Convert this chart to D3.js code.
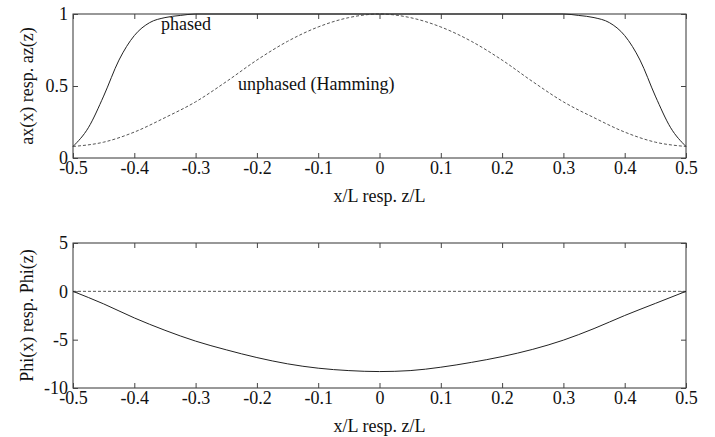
<!DOCTYPE html>
<html>
<head>
<meta charset="utf-8">
<script src="https://cdn.jsdelivr.net/npm/d3@7"></script>
<style>
  body { margin: 0; background: #fff; }
  text { font-family: "Liberation Serif", "Times New Roman", serif; fill: #111; }
</style>
</head>
<body>
<div id="canvas"></div>
<script>
// x/L positions (0.05 grid) for the Hamming / phase curves
const xGrid = [-0.5, -0.45, -0.4, -0.35, -0.3, -0.25, -0.2, -0.15, -0.1, -0.05, 0,
               0.05, 0.1, 0.15, 0.2, 0.25, 0.3, 0.35, 0.4, 0.45, 0.5];
// amplitude, unphased (Hamming)
const ampUnphased = [0.08, 0.11, 0.18, 0.28, 0.39, 0.53, 0.68, 0.81, 0.91, 0.975, 1.0,
                     0.975, 0.91, 0.81, 0.68, 0.53, 0.39, 0.28, 0.18, 0.11, 0.08];
// amplitude, phased (finer near the edges)
const xPhased = [-0.5, -0.475, -0.45, -0.425, -0.4, -0.375, -0.35, -0.325, -0.3, -0.2, -0.1, 0,
                 0.1, 0.2, 0.3, 0.325, 0.35, 0.375, 0.4, 0.425, 0.45, 0.475, 0.5];
const ampPhased = [0.08, 0.21, 0.43, 0.68, 0.85, 0.94, 0.975, 0.99, 1.0, 1.0, 1.0, 1.0,
                   1.0, 1.0, 1.0, 0.99, 0.975, 0.94, 0.85, 0.68, 0.43, 0.21, 0.08];
// phase
const phiPhased = [0, -1.3, -2.75, -4.03, -5.15, -6.05, -6.85, -7.5, -7.95, -8.2, -8.3,
                   -8.2, -7.85, -7.35, -6.75, -6.0, -5.05, -3.85, -2.5, -1.25, 0];
const phiUnphased = [0, 0, 0, 0, 0, 0, 0, 0, 0, 0, 0, 0, 0, 0, 0, 0, 0, 0, 0, 0, 0];

const xTicks = [-0.5, -0.4, -0.3, -0.2, -0.1, 0, 0.1, 0.2, 0.3, 0.4, 0.5];
const ampTicks = [0, 0.5, 1];
const phiTicks = [-10, -5, 0, 5];

const width = 715, height = 437;
const fs = "18px";
const svg = d3.select("#canvas").append("svg").attr("width", width).attr("height", height);
svg.append("rect").attr("width", width).attr("height", height).attr("fill", "#ffffff");

const x = d3.scaleLinear().domain([-0.5, 0.5]).range([73, 686]);

function fmt(d) { return d === 0 ? "0" : String(d); }

function panel(top, bottom, yDomain, yTicks, yLabel) {
    const y = d3.scaleLinear().domain(yDomain).range([bottom, top]);
    const g = svg.append("g");
    g.append("rect")
        .attr("x", x.range()[0]).attr("y", top)
        .attr("width", x.range()[1] - x.range()[0]).attr("height", bottom - top)
        .attr("fill", "none").attr("stroke", "#333").attr("stroke-width", 1);

    const ax = [
        g.append("g").attr("transform", "translate(0," + bottom + ")")
            .call(d3.axisBottom(x).tickValues(xTicks).tickSize(-5).tickPadding(3).tickFormat(fmt)),
        g.append("g").attr("transform", "translate(0," + top + ")")
            .call(d3.axisTop(x).tickValues(xTicks).tickSize(-5).tickFormat("")),
        g.append("g").attr("transform", "translate(" + x.range()[0] + ",0)")
            .call(d3.axisLeft(y).tickValues(yTicks).tickSize(-5).tickPadding(5).tickFormat(fmt)),
        g.append("g").attr("transform", "translate(" + x.range()[1] + ",0)")
            .call(d3.axisRight(y).tickValues(yTicks).tickSize(-5).tickFormat(""))
    ];
    ax.forEach(a => {
        a.select(".domain").remove();
        a.selectAll("line").attr("stroke", "#444");
        a.selectAll("text").style("font-family", "Liberation Serif").style("font-size", fs).attr("fill", "#111");
    });

    g.append("text")
        .attr("x", (x.range()[0] + x.range()[1]) / 2)
        .attr("y", bottom + 44)
        .attr("text-anchor", "middle")
        .style("font-size", fs)
        .text("x/L resp. z/L");
    g.append("text")
        .attr("transform", "translate(27," + ((top + bottom) / 2) + ") rotate(-90)")
        .attr("text-anchor", "middle")
        .attr("dominant-baseline", "central")
        .style("font-size", fs)
        .text(yLabel);
    return { g: g, y: y };
}

const p1 = panel(14, 158, [0, 1], ampTicks, "ax(x) resp. az(z)");
const p2 = panel(243, 388, [-10, 5], phiTicks, "Phi(x) resp. Phi(z)");

function drawLine(p, xs, ys, dashed) {
    const line = d3.line()
        .x(d => x(d[0]))
        .y(d => p.y(d[1]))
        .curve(d3.curveMonotoneX);
    p.g.append("path")
        .datum(xs.map((v, i) => [v, ys[i]]))
        .attr("d", line)
        .attr("fill", "none")
        .attr("stroke", dashed ? "#555" : "#222")
        .attr("stroke-width", 1)
        .attr("stroke-dasharray", dashed ? "3,2" : null);
}

drawLine(p1, xGrid, ampUnphased, true);
drawLine(p1, xPhased, ampPhased, false);
drawLine(p2, xGrid, phiUnphased, true);
drawLine(p2, xGrid, phiPhased, false);

p1.g.append("text").attr("x", 161).attr("y", 30).style("font-size", fs).text("phased");
p1.g.append("text").attr("x", 238).attr("y", 90).style("font-size", fs).text("unphased (Hamming)");
</script>
</body>
</html>
